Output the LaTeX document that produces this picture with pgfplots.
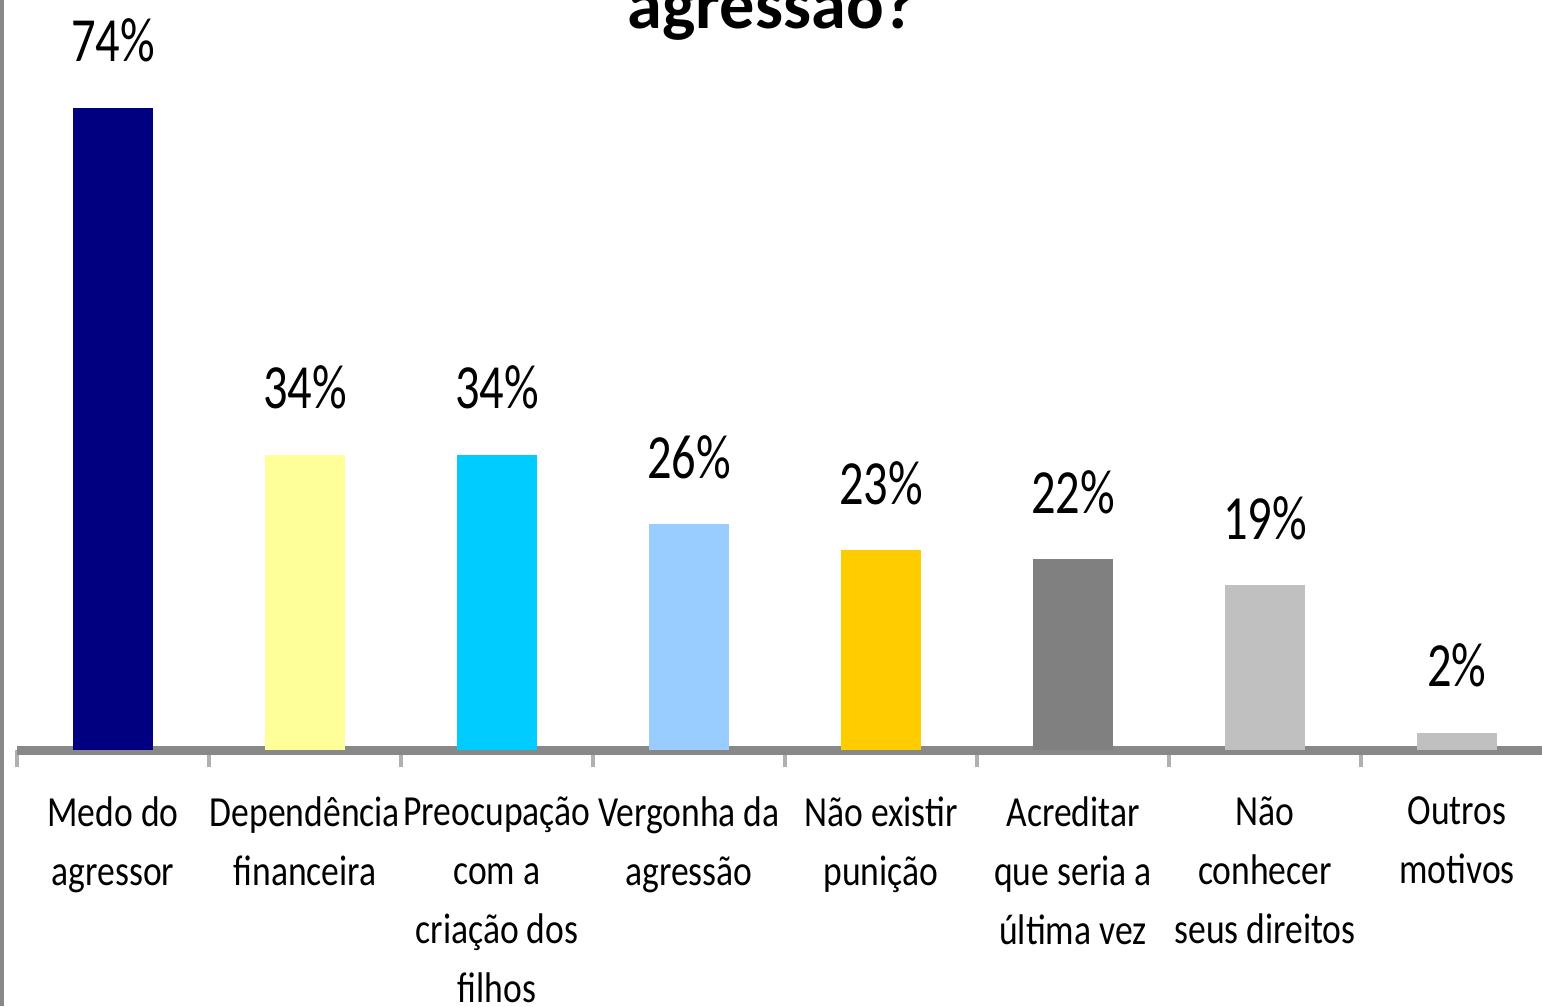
\documentclass[border=0pt]{standalone}
\usepackage{fontspec}
\setmainfont{Carlito}
\newfontfamily\labfont{Carlito}[FakeStretch=0.83]
\newfontfamily\valfont{Carlito}[FakeStretch=0.77]
\usepackage{pgfplots}
\pgfplotsset{compat=1.18}
\definecolor{cA}{HTML}{000080}
\definecolor{cB}{HTML}{FFFF99}
\definecolor{cC}{HTML}{00CCFF}
\definecolor{cD}{HTML}{99CCFF}
\definecolor{cE}{HTML}{FFCC00}
\definecolor{cF}{HTML}{808080}
\definecolor{cG}{HTML}{C0C0C0}
\definecolor{cH}{HTML}{C0C0C0}
\definecolor{axgray}{HTML}{888888}
\definecolor{tkgray}{HTML}{B0B0B0}
\begin{document}
\begin{tikzpicture}
\useasboundingbox (0,0) rectangle (15.42cm,10.06cm);
\clip (0,0) rectangle (15.42cm,10.06cm);
\draw[axgray, line width=0.035cm] (0.02cm,0) -- (0.02cm,10.06cm);
\node[font=\bfseries\fontsize{20}{22}\selectfont, anchor=base] at (7.72cm,9.78cm) {agressão?};
\begin{axis}[
  at={(0.17cm,2.56cm)}, anchor=south west,
  scale only axis, width=15.36cm, height=6.944cm,
  xmin=0, xmax=8, ymin=0, ymax=80,
  clip=false,
  /pgf/number format/assume math mode=true,
  axis x line=bottom, axis y line=none,
  x axis line style={draw=axgray, line width=0.09cm, -},
  xtick={0.5,1.5,...,7.5},
  xticklabels={{Medo do\\agressor},{Dependência\\financeira},{Preocupação\\com a\\criação dos\\filhos},{Vergonha da\\agressão},{Não existir\\punição},{Acreditar\\que seria a\\última vez},{Não\\conhecer\\seus direitos},{Outros\\motivos}},
  major tick length=0pt,
  minor xtick={0,1,...,8},
  minor tick length=0.17cm,
  xtick align=outside,
  minor tick style={draw=tkgray, line width=0.04cm},
  xticklabel style={font=\labfont\fontsize{12.2}{16.8}\selectfont, align=center, anchor=north, yshift=-0.46cm, inner sep=0pt},
  ybar, bar width=0.8cm, bar shift=0pt,
  nodes near coords={\pgfmathprintnumber{\pgfplotspointmeta}\%},
  nodes near coords style={font=\valfont\fontsize{17.9}{20}\selectfont, anchor=base, yshift=0.46cm, inner sep=0pt, text=black},
]
\addplot[fill=cA, draw=none] coordinates {(0.5,74)};
\addplot[fill=cB, draw=none] coordinates {(1.5,34)};
\addplot[fill=cC, draw=none] coordinates {(2.5,34)};
\addplot[fill=cD, draw=none] coordinates {(3.5,26)};
\addplot[fill=cE, draw=none] coordinates {(4.5,23)};
\addplot[fill=cF, draw=none] coordinates {(5.5,22)};
\addplot[fill=cG, draw=none] coordinates {(6.5,19)};
\addplot[fill=cH, draw=none] coordinates {(7.5,2)};
\end{axis}
\end{tikzpicture}
\end{document}
